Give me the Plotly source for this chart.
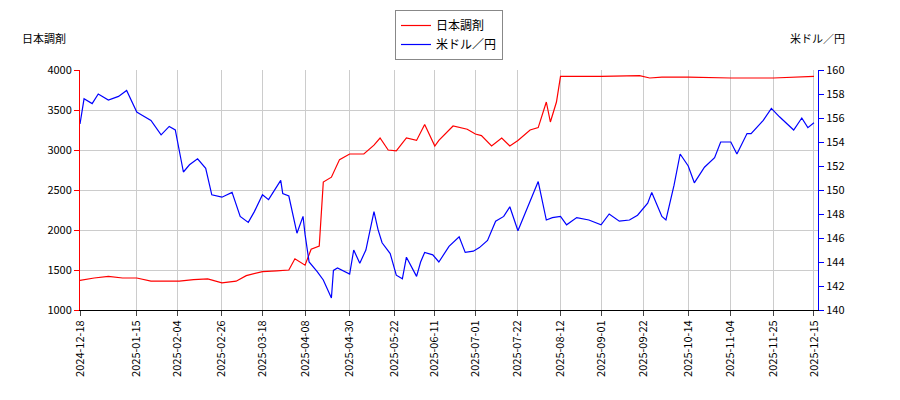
import plotly.graph_objects as go

red_dates = ["2024-12-18","2024-12-25","2025-01-01","2025-01-08","2025-01-15","2025-01-22","2025-01-29","2025-02-05","2025-02-12","2025-02-19","2025-02-26","2025-03-05","2025-03-10","2025-03-18","2025-03-25","2025-03-31","2025-04-03","2025-04-08","2025-04-11","2025-04-15","2025-04-17","2025-04-21","2025-04-25","2025-04-30","2025-05-07","2025-05-12","2025-05-15","2025-05-19","2025-05-23","2025-05-28","2025-06-02","2025-06-06","2025-06-11","2025-06-13","2025-06-20","2025-06-27","2025-07-01","2025-07-04","2025-07-09","2025-07-14","2025-07-18","2025-07-22","2025-07-28","2025-08-01","2025-08-05","2025-08-07","2025-08-10","2025-08-12","2025-08-20","2025-09-01","2025-09-20","2025-09-25","2025-10-01","2025-10-14","2025-11-04","2025-11-25","2025-12-15"]
red_vals = [1370,1400,1420,1400,1400,1360,1360,1360,1380,1390,1340,1360,1430,1480,1490,1500,1640,1560,1760,1800,2600,2660,2880,2950,2950,3060,3150,3000,2990,3150,3120,3320,3050,3120,3300,3260,3200,3180,3050,3150,3050,3120,3250,3280,3600,3350,3600,3920,3920,3920,3930,3900,3910,3910,3900,3900,3920]

blue_dates = ["2024-12-18","2024-12-20","2024-12-24","2024-12-27","2025-01-01","2025-01-06","2025-01-10","2025-01-15","2025-01-17","2025-01-22","2025-01-27","2025-01-31","2025-02-03","2025-02-07","2025-02-10","2025-02-14","2025-02-18","2025-02-21","2025-02-26","2025-03-03","2025-03-07","2025-03-11","2025-03-14","2025-03-18","2025-03-21","2025-03-27","2025-03-28","2025-03-31","2025-04-04","2025-04-07","2025-04-08","2025-04-10","2025-04-14","2025-04-17","2025-04-21","2025-04-22","2025-04-24","2025-04-28","2025-04-30","2025-05-02","2025-05-05","2025-05-08","2025-05-12","2025-05-14","2025-05-16","2025-05-20","2025-05-23","2025-05-26","2025-05-28","2025-06-02","2025-06-04","2025-06-06","2025-06-10","2025-06-13","2025-06-18","2025-06-23","2025-06-26","2025-06-30","2025-07-03","2025-07-07","2025-07-11","2025-07-15","2025-07-18","2025-07-22","2025-07-25","2025-07-30","2025-08-01","2025-08-05","2025-08-08","2025-08-12","2025-08-15","2025-08-20","2025-08-26","2025-09-01","2025-09-05","2025-09-10","2025-09-15","2025-09-19","2025-09-24","2025-09-26","2025-10-01","2025-10-03","2025-10-07","2025-10-10","2025-10-14","2025-10-17","2025-10-22","2025-10-27","2025-10-30","2025-11-04","2025-11-07","2025-11-12","2025-11-14","2025-11-20","2025-11-24","2025-11-28","2025-12-02","2025-12-05","2025-12-09","2025-12-12","2025-12-15"]
blue_vals = [155.5,157.6,157.2,158.0,157.5,157.8,158.3,156.5,156.3,155.8,154.6,155.3,155.0,151.5,152.1,152.6,151.8,149.6,149.4,149.8,147.8,147.3,148.2,149.6,149.2,150.8,149.7,149.5,146.4,147.8,146.3,144.0,143.2,142.5,141.0,143.3,143.5,143.2,143.0,145.0,143.9,145.0,148.2,146.7,145.6,144.7,142.9,142.6,144.4,142.8,144.0,144.8,144.6,144.0,145.3,146.1,144.8,144.9,145.2,145.8,147.4,147.8,148.6,146.6,147.8,149.8,150.7,147.5,147.7,147.8,147.1,147.7,147.5,147.1,148.0,147.4,147.5,147.9,148.9,149.8,147.8,147.5,150.4,153.0,152.0,150.6,151.9,152.7,154.0,154.0,153.0,154.7,154.7,155.8,156.8,156.1,155.5,155.0,156.0,155.2,155.6]

tick_dates = ["2024-12-18","2025-01-15","2025-02-04","2025-02-26","2025-03-18","2025-04-08","2025-04-30","2025-05-22","2025-06-11","2025-07-01","2025-07-22","2025-08-12","2025-09-01","2025-09-22","2025-10-14","2025-11-04","2025-11-25","2025-12-15"]

fig = go.Figure()
fig.add_trace(go.Scatter(x=red_dates, y=red_vals, name="日本調剤", mode="lines",
                         line=dict(color="red", width=1.2)))
fig.add_trace(go.Scatter(x=blue_dates, y=blue_vals, name="米ドル／円", mode="lines",
                         line=dict(color="blue", width=1.2), yaxis="y2"))

fig.update_layout(
    width=900, height=400, plot_bgcolor="white", paper_bgcolor="white",
    font=dict(family="Noto Sans CJK JP", size=11, color="black"),
    margin=dict(l=72, r=90, t=62, b=98, autoexpand=False),
    showlegend=True,
    legend=dict(x=0.5, y=1.25, xanchor="center", yanchor="top", bordercolor="#888",
                borderwidth=1, bgcolor="white", font=dict(size=12)),
    xaxis=dict(type="date", range=["2024-12-18", "2025-12-17"], tickvals=tick_dates,
               ticktext=tick_dates, tickangle=-90, showgrid=True, gridcolor="#ccc",
               ticks="outside", showline=True, linecolor="black", automargin=False),
    yaxis=dict(range=[1000, 4000], dtick=500, showgrid=True, gridcolor="#ccc",
               ticks="outside", showline=True, linecolor="red", tickcolor="red",
               zeroline=False, automargin=False),
    yaxis2=dict(range=[140, 160], dtick=2, overlaying="y", side="right",
                showgrid=False, ticks="outside", showline=True, linecolor="blue",
                tickcolor="blue", zeroline=False, automargin=False),
    annotations=[
        dict(text="日本調剤", x=0, y=1.09, xref="paper", yref="paper", xanchor="right",
             yanchor="bottom", xshift=-12, showarrow=False, font=dict(size=11)),
        dict(text="米ドル／円", x=1, y=1.09, xref="paper", yref="paper", xanchor="left",
             yanchor="bottom", xshift=-30, showarrow=False, font=dict(size=11)),
    ],
)

fig.write_html("out.html")
